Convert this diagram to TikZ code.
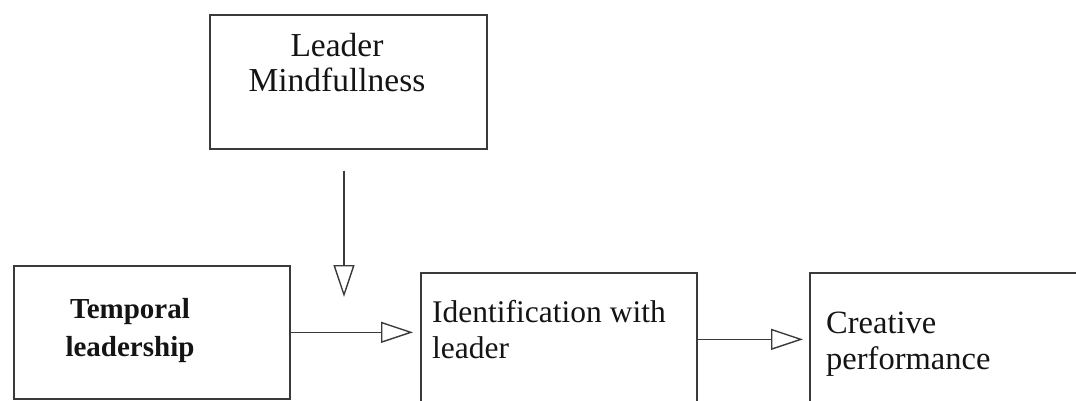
\documentclass[tikz,border=0pt]{standalone}
\usepackage{fontspec}
\setmainfont{Liberation Serif}
\usetikzlibrary{arrows.meta,positioning}
\definecolor{edge}{RGB}{58,58,58}
\definecolor{ink}{RGB}{20,20,20}

\begin{document}
\begin{tikzpicture}[x=1pt,y=-1pt,>=Latex,
box/.style={draw=edge,line width=1.7pt,anchor=north west,inner sep=0pt,minimum height=133pt},
lbl/.style={inner sep=0pt,text=ink},
arr/.style={-{Triangle[open,length=32pt,width=21pt]},line width=1.4pt,edge}]
\clip (0,0) rectangle (1076,401);
% boxes
\node[box,minimum width=277pt,minimum height=134pt] (leader) at (209,14) {};
\node[box,minimum width=276pt] (temporal) at (13,265) {};
\node[box,minimum width=276pt] (ident) at (420,272) {};
\node[box,minimum width=290pt] (creative) at (809,272) {};
% texts
\node[lbl,anchor=north,align=center,font=\fontsize{33.5}{35}\selectfont] (leadertext) at (337,33) {Leader\\Mindfullness};
\node[lbl,anchor=north,align=center,font=\fontsize{29}{38}\selectfont\bfseries] (temporaltext) at (130,298) {Temporal\\leadership};
\node[lbl,anchor=north west,align=left,font=\fontsize{31.5}{36}\selectfont] (identtext) at (432,300) {Identification with\\leader};
\node[lbl,anchor=north west,align=left,font=\fontsize{32.5}{36}\selectfont] (creativetext) at (826,312) {Creative\\performance};
% arrows
\coordinate (modtip) at (344,297);
\draw[arr] ([yshift=-21pt]leader.south -| modtip) -- (modtip);
\draw[arr,shorten >=7pt] (temporal.east) -- (temporal.east -| ident.west);
\draw[arr,shorten >=6pt] (ident) -- (creative);
\end{tikzpicture}
\end{document}
